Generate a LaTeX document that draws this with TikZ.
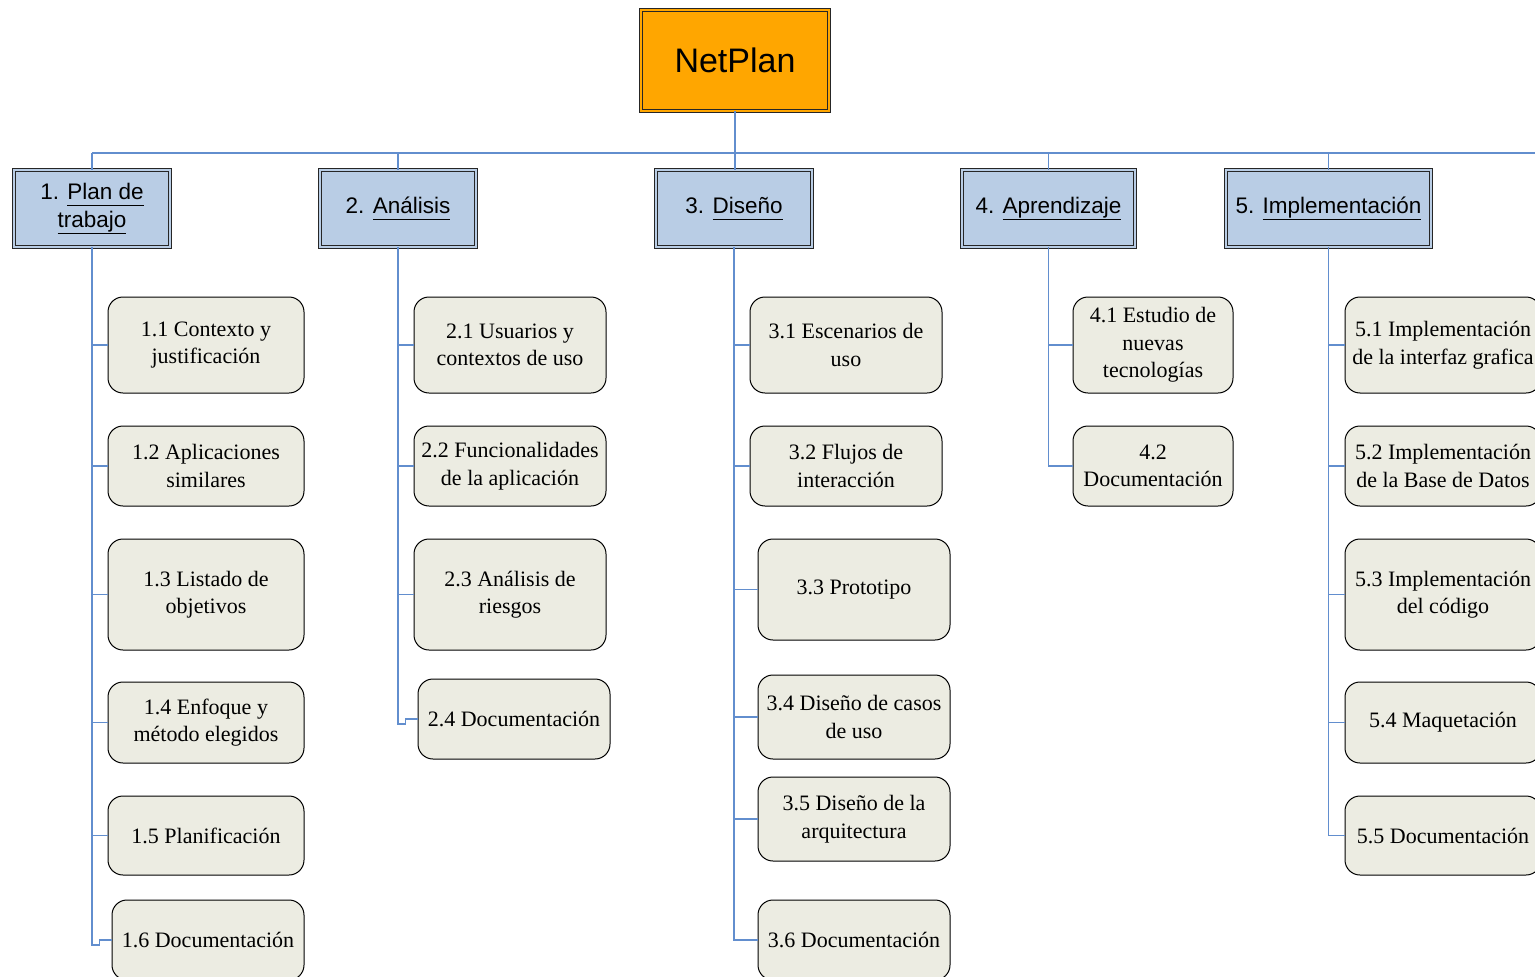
\documentclass[tikz,border=0pt]{standalone}
\usepackage{fontspec}
\setmainfont{Liberation Serif}
\setsansfont{Liberation Sans}
\usetikzlibrary{calc}

\definecolor{linkblue}{RGB}{98,142,206}
\definecolor{headfill}{RGB}{185,205,229}
\definecolor{taskfill}{RGB}{236,236,226}
\definecolor{rootfill}{RGB}{255,166,0}

% underline at a fixed depth, independent of descenders
\newcommand\ulword[1]{\underline{#1\vphantom{j}}}

\tikzset{
  rootbox/.style={draw=black!85, line width=0.9pt, double=rootfill, double distance=2.2pt,
    fill=rootfill, inner sep=0pt, minimum width=188, minimum height=101,
    font=\sffamily\fontsize{34}{40}\selectfont},
  headbox/.style={draw=black!85, line width=0.9pt, double=headfill, double distance=2.2pt,
    fill=headfill, inner sep=0pt, minimum height=77, align=center,
    font=\sffamily\fontsize{22.5}{27.5}\selectfont},
  taskbox/.style={draw=black, line width=1pt, rounded corners=15pt, fill=taskfill,
    inner sep=0pt, align=center, font=\fontsize{22}{27.5}\selectfont},
  link/.style={draw=linkblue, line width=1.2pt},
}

\begin{document}
\begin{tikzpicture}[x=1pt, y=-1pt]
\useasboundingbox (0,0) rectangle (1535,977);
\begin{scope}
\clip (0,0) rectangle (1535,977);

% root and work packages
\node[rootbox] (root) at (735,60.5) {NetPlan};
\node[headbox, minimum width=156] (h1) at (92,208.5) {1. \ulword{Plan de}\\\ulword{trabajo}};
\node[headbox, minimum width=156] (h2) at (398,208.5) {2. \ulword{Análisis}};
\node[headbox, minimum width=156] (h3) at (734,208.5) {3. \ulword{Diseño}};
\node[headbox, minimum width=173] (h4) at (1048.5,208.5) {4. \ulword{Aprendizaje}};
\node[headbox, minimum width=205] (h5) at (1328.5,208.5) {5. \ulword{Implementación}};

% 1. Plan de trabajo
\node[taskbox, minimum width=196, minimum height=96] (t11) at (206,345) {1.1 Contexto y\\justificación};
\node[taskbox, minimum width=196, minimum height=80] (t12) at (206,466) {1.2 Aplicaciones\\similares};
\node[taskbox, minimum width=196, minimum height=111] (t13) at (206,594.5) {1.3 Listado de\\objetivos};
\node[taskbox, minimum width=196, minimum height=81] (t14) at (206,722.5) {1.4 Enfoque y\\método elegidos};
\node[taskbox, minimum width=196, minimum height=79] (t15) at (206,835.5) {1.5 Planificación};
\node[taskbox, minimum width=192, minimum height=80] (t16) at (208,940) {1.6 Documentación};

% 2. Análisis
\node[taskbox, minimum width=192, minimum height=96] (t21) at (510,345) {2.1 Usuarios y\\contextos de uso};
\node[taskbox, minimum width=192, minimum height=80] (t22) at (510,466) {2.2 Funcionalidades\\de la aplicación};
\node[taskbox, minimum width=192, minimum height=111] (t23) at (510,594.5) {2.3 Análisis de\\riesgos};
\node[taskbox, minimum width=192, minimum height=80] (t24) at (514,719) {2.4 Documentación};

% 3. Diseño
\node[taskbox, minimum width=192, minimum height=96] (t31) at (846,345) {3.1 Escenarios de\\uso};
\node[taskbox, minimum width=192, minimum height=80] (t32) at (846,466) {3.2 Flujos de\\interacción};
\node[taskbox, minimum width=192, minimum height=101] (t33) at (854,589.5) {3.3 Prototipo};
\node[taskbox, minimum width=192, minimum height=84] (t34) at (854,717) {3.4 Diseño de casos\\de uso};
\node[taskbox, minimum width=192, minimum height=84] (t35) at (854,819) {3.5 Diseño de la\\arquitectura};
\node[taskbox, minimum width=192, minimum height=80] (t36) at (854,940) {3.6 Documentación};

% 4. Aprendizaje
\node[taskbox, minimum width=160, minimum height=96] (t41) at (1153,345) {4.1 Estudio de\\nuevas\\tecnologías};
\node[taskbox, minimum width=160, minimum height=80] (t42) at (1153,466) {4.2\\Documentación};

% 5. Implementación
\node[taskbox, minimum width=196, minimum height=96] (t51) at (1443,345) {5.1 Implementación\\de la interfaz grafica};
\node[taskbox, minimum width=196, minimum height=80] (t52) at (1443,466) {5.2 Implementación\\de la Base de Datos};
\node[taskbox, minimum width=196, minimum height=111] (t53) at (1443,594.5) {5.3 Implementación\\del código};
\node[taskbox, minimum width=196, minimum height=81] (t54) at (1443,722.5) {5.4 Maquetación};
\node[taskbox, minimum width=196, minimum height=79] (t55) at (1443,835.5) {5.5 Documentación};

% connectors from the root to the work packages
\coordinate (busL) at (h1.north |- 0,153);
\coordinate (busR) at (1545,153);
\draw[link] (busL) -- (busR);
\draw[link] (root.south) -- (root.south |- h3.north);
\foreach \h in {h1,h2,h4,h5}
  \draw[link] (\h.north) -- (\h.north |- busL);

% connectors from the work packages to their tasks
\foreach \t in {t11,t12,t13,t14,t15}
  \draw[link] (h1.south) |- (\t.west);
\draw[link] (h1.south) |- ($(t16.west)+(-12,5)$) |- (t16.west);
\foreach \t in {t21,t22,t23}
  \draw[link] (h2.south) |- (\t.west);
\draw[link] (h2.south) |- ($(t24.west)+(-12,5)$) |- (t24.west);
\foreach \t in {t31,t32,t33,t34,t35,t36}
  \draw[link] (h3.south) |- (\t.west);
\foreach \t in {t41,t42}
  \draw[link] (h4.south) |- (\t.west);
\foreach \t in {t51,t52,t53,t54,t55}
  \draw[link] (h5.south) |- (\t.west);
\end{scope}
\end{tikzpicture}
\end{document}
